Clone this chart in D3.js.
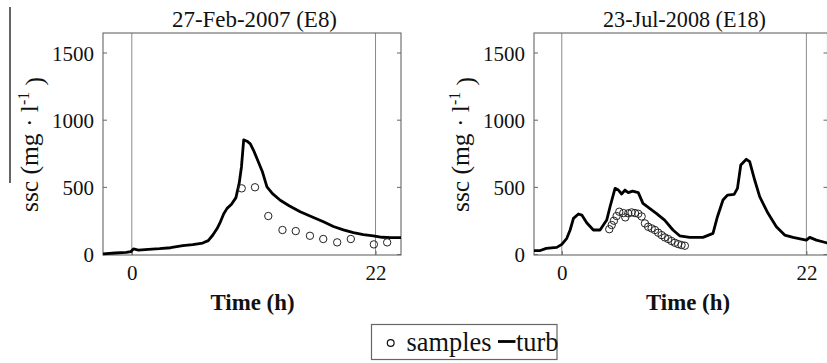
<!DOCTYPE html>
<html><head><meta charset="utf-8">
<script src="https://cdn.jsdelivr.net/npm/d3@7"></script>
<style>
html,body{margin:0;padding:0;background:#fff;}
svg{display:block;}
svg text{font-family:"Liberation Serif","Times New Roman",serif !important;}
</style></head>
<body>
<svg id="c" width="827" height="363"></svg>
<script>
// ---- data ----
const titles = ["27-Feb-2007 (E8)", "23-Jul-2008 (E18)"];
const xTicks = [0, 22];
const yTicks = [0, 500, 1000, 1500];
const eventMarks = [0, 22];

const turbH1 = [-2.6,-1.5,-0.5,-0.1,0.15,0.6,1.5,2.5,3.5,4.6,5.5,6.4,6.9,7.3,7.7,8.0,8.3,8.6,9.0,9.4,9.7,9.9,10.1,10.4,10.7,11.0,11.4,11.8,12.2,12.7,13.4,14.2,15.2,16.4,17.3,18.2,19.1,20.0,20.9,21.8,22.6,23.4,24.3];
const turbV1 = [2,8,12,18,38,30,35,40,47,62,70,82,100,140,190,240,300,340,370,420,530,650,850,840,820,770,690,610,500,450,400,360,315,272,240,205,180,160,145,135,125,122,122];
const sampH1 = [9.92,11.12,12.32,13.6,14.8,16.08,17.28,18.54,19.77,21.85,23.05];
const sampV1 = [489,497,283,179,171,136,112,87,112,72,87];

const turbH2 = [-2.55,-2.0,-1.4,-0.45,0,0.45,0.75,1.05,1.5,1.8,2.24,2.84,3.44,4.04,4.34,4.79,5.09,5.38,5.68,5.98,6.37,6.88,7.3,7.9,8.5,9.25,10.0,10.6,11.5,12.7,13.6,14.0,14.5,14.9,15.5,15.8,16.1,16.6,16.9,17.35,17.8,18.55,19.3,20.05,20.8,21.55,22.0,22.3,22.9,23.8,24.3];
const turbV2 = [25,25,42,50,72,117,179,266,298,290,233,179,179,253,352,489,476,447,476,457,468,457,377,340,303,253,179,136,124,124,154,278,402,439,444,489,663,705,687,551,427,303,203,141,124,112,104,124,104,84,80];
const sampH2 = [4.27,4.49,4.69,4.93,5.17,5.53,5.71,5.98,6.28,6.58,6.88,7.18,7.48,7.77,8.08,8.38,8.67,8.98,9.27,9.57,9.87,10.17,10.47,10.77,11.07];
const sampV2 = [185,216,248,283,315,305,273,303,310,305,300,280,228,203,191,179,159,141,124,112,97,84,74,67,62];

const legendLabels = ["samples", "turb"];

// ---- helpers ----
function fitWidth(sel, target) {
  const node = sel.node();
  const fs = parseFloat(node.style.fontSize);
  const w = node.getComputedTextLength();
  if (w > 0) sel.style("font-size", (fs * target / w).toFixed(2) + "px");
  return sel;
}

// ---- drawing ----
const svg = d3.select("#c");
const plotTop = 33, plotBottom = 255;
const y = d3.scaleLinear().domain([-7, 1645]).range([plotBottom, plotTop]);
const panels = [
  {x0: 103, x1: 401, dom: [-2.6, 24.3], th: turbH1, tv: turbV1, sh: sampH1, sv: sampV1, title: titles[0], tx: 254.5, tw: 165, lx: 252.5},
  {x0: 534, x1: 827.5, dom: [-2.5, 23.9], th: turbH2, tv: turbV2, sh: sampH2, sv: sampV2, title: titles[1], tx: 684.5, tw: 163, lx: 688}
];

svg.append("line").attr("x1",10).attr("x2",10).attr("y1",7).attr("y2",183)
  .attr("stroke","#111").attr("stroke-width",1.3);

let tickFont = 20;
panels.forEach((p, i) => {
  const x = d3.scaleLinear().domain(p.dom).range([p.x0, p.x1]);
  const g = svg.append("g");

  g.append("clipPath").attr("id", "clip" + i).append("rect")
    .attr("x", p.x0).attr("y", plotTop - 5).attr("width", p.x1 - p.x0).attr("height", plotBottom - plotTop + 10);

  g.selectAll(".ev").data(eventMarks).join("line")
    .attr("x1", d => x(d)).attr("x2", d => x(d))
    .attr("y1", plotTop).attr("y2", plotBottom)
    .attr("stroke", "#8a8a8a").attr("stroke-width", 1);

  g.append("rect").attr("x", p.x0).attr("y", plotTop)
    .attr("width", p.x1 - p.x0).attr("height", plotBottom - plotTop)
    .attr("fill", "none").attr("stroke", "#666").attr("stroke-width", 1.1);

  const ax = d3.axisLeft(y).tickValues(yTicks).tickSize(-4).tickPadding(9).tickFormat(d3.format("d"));
  const ga = g.append("g").attr("transform", `translate(${p.x0},0)`).call(ax);
  const axR = d3.axisRight(y).tickValues(yTicks).tickSize(-4).tickFormat("");
  const gr = g.append("g").attr("transform", `translate(${p.x1},0)`).call(axR);
  const bx = d3.axisBottom(x).tickValues(xTicks).tickSize(-4).tickPadding(9).tickFormat(d3.format("d"));
  const gb = g.append("g").attr("transform", `translate(0,${plotBottom})`).call(bx);
  [ga, gr, gb].forEach(a => {
    a.attr("font-family", null).attr("font-size", null);
    a.select(".domain").remove();
    a.selectAll(".tick line").attr("stroke", "#666");
    a.selectAll("text").style("font-size", "20px").attr("fill", "#111");
  });
  if (i === 0) {
    const t1500 = ga.selectAll("text").filter(d => d === 1500);
    fitWidth(t1500, 42);
    tickFont = parseFloat(t1500.node().style.fontSize);
  }
  [ga, gb].forEach(a => a.selectAll("text").style("font-size", tickFont + "px"));
  ga.selectAll("text").attr("dy", "0.36em");
  gb.selectAll("text").attr("dy", "0.75em");

  const line = d3.line().x(d => x(d[0])).y(d => y(d[1]));
  g.append("path").datum(p.th.map((h, k) => [h, p.tv[k]]))
    .attr("clip-path", `url(#clip${i})`)
    .attr("d", line).attr("fill", "none").attr("stroke", "#000")
    .attr("stroke-width", 2.8).attr("stroke-linejoin", "round");

  g.selectAll(".s").data(p.sh.map((h, k) => [h, p.sv[k]])).join("circle")
    .attr("cx", d => x(d[0])).attr("cy", d => y(d[1])).attr("r", 3.7)
    .attr("fill", "none").attr("stroke", "#222").attr("stroke-width", 1);

  const tt = g.append("text").attr("x", p.tx).attr("y", 26.5).attr("text-anchor", "middle")
    .style("font-size", "22px").attr("fill", "#111").text(p.title);
  fitWidth(tt, p.tw);

  const xl = g.append("text").attr("x", p.lx).attr("y", 310).attr("text-anchor", "middle")
    .style("font-size", "23px").attr("font-weight", "bold").attr("fill", "#111").text("Time (h)");
  fitWidth(xl, 84);

  const yl = g.append("text")
    .attr("transform", `translate(${p.x0 - 65},144.5) rotate(-90)`)
    .attr("text-anchor", "middle").style("font-size", "24px").attr("fill", "#111");
  yl.append("tspan").text("ssc (mg · l");
  yl.append("tspan").attr("dy", "-0.55em").attr("font-size", "0.62em").text("-1");
  yl.append("tspan").attr("dy", "0.55em").text(" )");
  fitWidth(yl, 135);
});

// legend
const lg = svg.append("g");
lg.append("rect").attr("x", 371.5).attr("y", 324.5).attr("width", 185.5).attr("height", 35)
  .attr("fill", "#fff").attr("stroke", "#666").attr("stroke-width", 1.2);
lg.append("circle").attr("cx", 390.7).attr("cy", 343).attr("r", 3.4)
  .attr("fill", "none").attr("stroke", "#111").attr("stroke-width", 1.2);
const l1 = lg.append("text").attr("x", 406.5).attr("y", 351).style("font-size", "26px").attr("fill", "#111").text(legendLabels[0]);
fitWidth(l1, 85);
const lfs = l1.node().style.fontSize;
lg.append("line").attr("x1", 498).attr("x2", 515.5).attr("y1", 341.5).attr("y2", 341.5)
  .attr("stroke", "#000").attr("stroke-width", 2.8);
lg.append("text").attr("x", 516).attr("y", 351).style("font-size", lfs).attr("fill", "#111").text(legendLabels[1]);
</script>
</body></html>
